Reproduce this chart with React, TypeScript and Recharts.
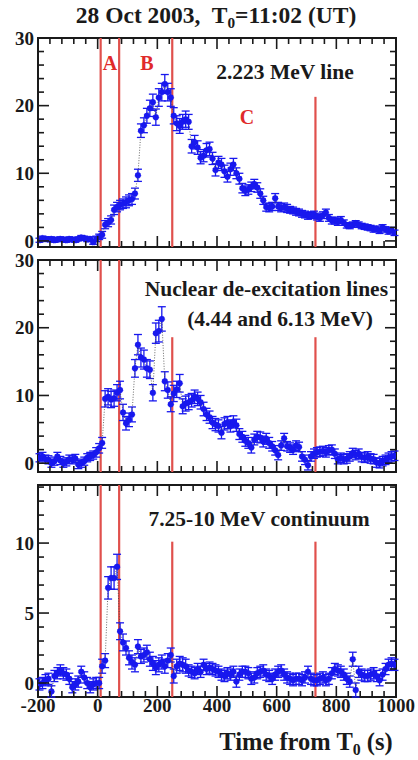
import React from "react";
import {
  ComposedChart,
  Line,
  XAxis,
  YAxis,
  ErrorBar,
  ReferenceLine,
  ReferenceArea,
} from "recharts";

// time bins (s from T0)
const times = [
  -195, -185, -175, -165, -155, -145, -135, -125, -115, -105,
  -95, -85, -75, -65, -55, -45, -35, -25, -15, -5,
  5, 15, 25, 35, 45, 55, 65, 75, 85, 95,
  105, 115, 125, 135, 145, 155, 165, 175, 185, 195,
  205, 215, 225, 235, 245, 255, 265, 275, 285, 295,
  305, 315, 325, 335, 345, 355, 365, 375, 385, 395,
  405, 415, 425, 435, 445, 455, 465, 475, 485, 495,
  505, 515, 525, 535, 545, 555, 565, 575, 585, 595,
  605, 615, 625, 635, 645, 655, 665, 675, 685, 695,
  705, 715, 725, 735, 745, 755, 765, 775, 785, 795,
  805, 815, 825, 835, 845, 855, 865, 875, 885, 895,
  905, 915, 925, 935, 945, 955, 965, 975, 985, 995,
];

// 2.223 MeV line
const line2223 = [
  0.1, 0.4, 0.3, 0.2, 0.3, 0.1, 0.2, 0.3, 0.2, 0.1,
  0.3, 0.2, 0.1, 0.3, 0.5, 0.4, 0.2, 0.3, -0.2, 0.3,
  0.6, 0.9, 2.4, 2.7, 3.1, 4.6, 5.0, 5.3, 5.5, 5.7,
  6.0, 6.2, 7.0, 9.7, 16.3, 17.1, 18.5, 19.6, 20.5, 18.3,
  21.2, 22.0, 23.2, 22.0, 21.2, 18.5, 17.4, 17.0, 17.6, 18.0,
  17.6, 14.0, 14.6, 13.8, 12.3, 12.6, 13.4, 13.6, 12.2, 10.5,
  11.6, 11.3, 10.3, 9.5, 10.6, 11.3, 10.0, 9.2, 7.8, 7.4,
  7.6, 8.0, 8.4, 7.9, 7.0, 6.0, 5.0, 4.9, 5.1, 6.3,
  5.1, 4.9, 5.0, 4.8, 4.6, 4.5, 4.3, 4.2, 4.0, 3.9,
  3.7, 3.8, 3.9, 3.6, 3.4, 3.8, 4.2, 3.4, 3.0, 3.0,
  2.8, 3.1, 2.7, 2.3, 2.2, 2.4, 2.6, 2.4, 2.2, 2.1,
  2.0, 1.9, 1.7, 1.8, 1.5, 2.0, 1.7, 1.4, 1.6, 1.2,
];
const line2223Err = [
  0.3, 0.3, 0.3, 0.3, 0.3, 0.3, 0.3, 0.3, 0.3, 0.3,
  0.3, 0.3, 0.3, 0.3, 0.3, 0.3, 0.3, 0.3, 0.3, 0.4,
  0.4, 0.5, 0.6, 0.6, 0.6, 0.7, 0.7, 0.7, 0.7, 0.8,
  0.8, 0.8, 0.8, 0.9, 1.0, 1.1, 1.1, 1.2, 1.2, 1.2,
  1.3, 1.3, 1.4, 1.3, 1.3, 1.2, 1.1, 1.1, 1.1, 1.2,
  1.1, 1.0, 1.0, 1.0, 0.9, 0.9, 1.0, 1.0, 0.9, 0.9,
  0.9, 0.9, 0.9, 0.8, 0.9, 0.9, 0.8, 0.8, 0.7, 0.7,
  0.7, 0.7, 0.7, 0.7, 0.7, 0.6, 0.6, 0.6, 0.6, 0.7,
  0.6, 0.6, 0.6, 0.6, 0.5, 0.5, 0.5, 0.5, 0.5, 0.5,
  0.5, 0.5, 0.5, 0.5, 0.5, 0.5, 0.5, 0.5, 0.5, 0.5,
  0.5, 0.5, 0.4, 0.4, 0.4, 0.4, 0.4, 0.4, 0.4, 0.4,
  0.4, 0.4, 0.4, 0.4, 0.4, 0.4, 0.4, 0.4, 0.4, 0.4,
];

// nuclear de-excitation lines (4.44 and 6.13 MeV)
const nuclear = [
  0.8, 1.0, 0.6, 0.5, 0.0, 0.3, 1.0, 0.4, 0.0, 0.2,
  0.6, 0.5, 0.7, -0.2, 0.0, 0.3, 0.8, 1.0, 1.2, 1.6,
  2.2, 3.0, 9.5, 9.8, 9.4, 9.6, 10.4, 10.8, 7.5, 5.9,
  6.4, 7.2, 14.0, 17.5, 15.6, 15.3, 14.0, 13.8, 10.4, 19.2,
  19.5, 21.3, 12.1, 10.8, 8.7, 10.3, 10.9, 11.8, 8.4, 8.8,
  9.0, 9.3, 9.8, 9.5, 9.0, 8.0, 7.2, 6.8, 6.0, 5.7,
  5.5, 4.5, 5.8, 6.0, 5.5, 6.1, 5.6, 4.3, 3.9, 3.3,
  3.0, 2.3, 3.5, 3.9, 3.8, 3.2, 3.6, 3.0, 2.5, 1.9,
  1.2, 2.6, 3.7, 2.5, 2.3, 2.0, 2.6, 2.4, 1.0, 0.5,
  -0.3, 1.0, 1.4, 1.6, 1.7, 1.8, 1.6, 1.9, 2.0, 1.4,
  0.6, 0.8, 0.6, 0.7, 1.0, 1.5, 1.2, 1.4, 0.9, 0.8,
  1.0, 0.7, 0.6, 0.1, 0.0, 0.3, 0.5, 0.8, 1.0, 1.1,
];
const nuclearErr = [
  0.6, 0.6, 0.6, 0.6, 0.6, 0.6, 0.6, 0.6, 0.6, 0.6,
  0.6, 0.6, 0.6, 0.6, 0.6, 0.6, 0.6, 0.6, 0.6, 0.7,
  0.7, 0.8, 1.2, 1.2, 1.2, 1.2, 1.2, 1.3, 1.2, 1.0,
  1.0, 1.1, 1.3, 1.5, 1.4, 1.4, 1.3, 1.3, 1.2, 1.5,
  1.6, 1.8, 1.4, 1.2, 1.1, 1.2, 1.2, 1.3, 1.1, 1.1,
  1.1, 1.0, 1.0, 1.0, 1.0, 1.0, 0.9, 0.9, 0.9, 0.9,
  0.9, 0.9, 0.9, 0.9, 0.9, 0.9, 0.9, 0.8, 0.8, 0.8,
  0.8, 0.8, 0.8, 0.8, 0.8, 0.8, 0.8, 0.8, 0.7, 0.7,
  0.7, 0.7, 0.7, 0.7, 0.7, 0.7, 0.7, 0.7, 0.7, 0.7,
  0.7, 0.7, 0.7, 0.7, 0.7, 0.7, 0.7, 0.7, 0.7, 0.7,
  0.7, 0.7, 0.7, 0.7, 0.7, 0.7, 0.7, 0.7, 0.7, 0.7,
  0.7, 0.7, 0.7, 0.7, 0.7, 0.7, 0.7, 0.7, 0.7, 0.7,
];

// 7.25-10 MeV continuum
const continuum = [
  -0.1, 0.0, 0.2, 0.3, -0.6, 0.5, 0.7, 0.9, 0.7, 0.6,
  0.3, -0.3, -0.1, 0.1, 0.8, 0.4, 0.0, -0.3, -0.1, 0.0,
  0.0, 1.2, 1.6, 6.8, 7.5, 7.5, 8.3, 3.7, 2.9, 2.5,
  1.8, 1.5, 1.3, 2.6, 1.9, 2.0, 2.2, 1.7, 1.4, 1.1,
  1.3, 1.5, 1.2, 1.6, 2.0, 0.5, 1.2, 1.4, 1.3, 1.2,
  0.9, 0.8, 0.7, 1.0, 0.8, 1.3, 1.0, 1.1, 1.0, 0.9,
  0.8, 0.6, 0.5, 0.7, 0.6, 0.8, 0.1, 0.6, 0.8, 0.8,
  0.7, 0.3, 0.4, 0.7, 0.8, 0.9, 0.6, 0.5, 0.3, 0.6,
  0.8, 0.9, 0.6, 0.4, 0.3, 0.2, 0.3, 0.3, 0.2, 0.4,
  0.8, 0.3, 0.2, 0.2, 0.3, 0.4, 0.2, 0.3, 0.7, 1.0,
  0.9, 0.8, 0.6, 0.3, 0.1, 1.7, -0.5, 0.8, 0.6, 0.5,
  0.5, 0.6, 0.7, 0.5, 0.2, 0.6, 1.0, 1.3, 1.4, 1.3,
];
const continuumErr = [
  0.4, 0.4, 0.4, 0.4, 0.4, 0.4, 0.4, 0.4, 0.4, 0.4,
  0.4, 0.4, 0.4, 0.4, 0.4, 0.4, 0.4, 0.4, 0.4, 0.4,
  0.4, 0.5, 0.5, 0.8, 0.8, 0.8, 0.9, 0.6, 0.6, 0.5,
  0.5, 0.5, 0.5, 0.5, 0.5, 0.5, 0.5, 0.5, 0.5, 0.5,
  0.5, 0.5, 0.5, 0.5, 0.5, 0.5, 0.5, 0.5, 0.5, 0.5,
  0.4, 0.4, 0.4, 0.4, 0.4, 0.4, 0.4, 0.4, 0.4, 0.4,
  0.4, 0.4, 0.4, 0.4, 0.4, 0.4, 0.4, 0.4, 0.4, 0.4,
  0.4, 0.4, 0.4, 0.4, 0.4, 0.4, 0.4, 0.4, 0.4, 0.4,
  0.4, 0.4, 0.4, 0.4, 0.4, 0.4, 0.4, 0.4, 0.4, 0.4,
  0.4, 0.4, 0.4, 0.4, 0.4, 0.4, 0.4, 0.4, 0.4, 0.4,
  0.4, 0.4, 0.4, 0.4, 0.4, 0.5, 0.5, 0.4, 0.4, 0.4,
  0.4, 0.4, 0.4, 0.4, 0.4, 0.4, 0.4, 0.4, 0.4, 0.4,
];

const xTicks = [
  -200, -160, -120, -80, -40, 0, 40, 80, 120, 160, 200, 240, 280, 320, 360,
  400, 440, 480, 520, 560, 600, 640, 680, 720, 760, 800, 840, 880, 920, 960, 1000,
];
const xLabels = [-200, 0, 200, 400, 600, 800, 1000];
const yTicks30 = [0, 2, 4, 6, 8, 10, 12, 14, 16, 18, 20, 22, 24, 26, 28, 30];
const yLabels30 = [0, 10, 20, 30];
const yTicks14 = [0, 1, 2, 3, 4, 5, 6, 7, 8, 9, 10, 11, 12, 13, 14];
const yLabels14 = [0, 5, 10];

// interval boundaries (A, B, C)
const bounds = [10, 72, 250, 730];

const SERIF = '"Liberation Serif", "Times New Roman", serif';
const INK = "#1a1a1a";
const RED = "#e0504c";
const BLUE = "#1818ee";
const PLOT_W = 358;

const XTick = (props: any) => {
  const { x, y, payload, plotH, showLabel } = props;
  const major = xLabels.includes(payload.value);
  const len = major ? 11 : 6;
  const top = y - plotH;
  return (
    <g>
      <line x1={x} x2={x} y1={y} y2={y - len} stroke={INK} strokeWidth={1.6} />
      <line x1={x} x2={x} y1={top} y2={top + len} stroke={INK} strokeWidth={1.6} />
      {showLabel && major && (
        <text
          x={x}
          y={y + 15}
          textAnchor="middle"
          fontFamily={SERIF}
          fontWeight="bold"
          fontSize={19}
          fill={INK}
        >
          {payload.value}
        </text>
      )}
    </g>
  );
};

const YTick = (props: any) => {
  const { x, y, payload, labels } = props;
  const major = labels.includes(payload.value);
  const len = major ? 11 : 6;
  const right = x + PLOT_W;
  return (
    <g>
      <line x1={x} x2={x + len} y1={y} y2={y} stroke={INK} strokeWidth={1.6} />
      <line x1={right} x2={right - len} y1={y} y2={y} stroke={INK} strokeWidth={1.6} />
      {major && (
        <text
          x={x - 4}
          y={y}
          dy="0.35em"
          textAnchor="end"
          fontFamily={SERIF}
          fontWeight="bold"
          fontSize={19}
          fill={INK}
        >
          {payload.value}
        </text>
      )}
    </g>
  );
};

function Panel(props: any) {
  const { top, plotH, xAxisH, values, errors, yDomain, yTicks, yLabels, cut250, cut730, showX } =
    props;
  const data = times.map((t, i) => ({ t, v: values[i], e: errors[i] }));
  const mt = 12;
  return (
    <div style={{ position: "absolute", left: 0, top: top - mt }}>
      <ComposedChart
        width={418}
        height={mt + plotH + xAxisH}
        data={data}
        margin={{ top: mt, right: 22, bottom: 0, left: 0 }}
      >
        <XAxis
          dataKey="t"
          type="number"
          domain={[-200, 1000]}
          ticks={xTicks}
          interval={0}
          height={xAxisH}
          axisLine={false}
          tickLine={false}
          tickSize={0}
          tickMargin={0}
          allowDataOverflow
          tick={(p: any) => <XTick {...p} plotH={plotH} showLabel={showX} />}
        />
        <YAxis
          type="number"
          domain={yDomain}
          ticks={yTicks}
          interval={0}
          width={38}
          axisLine={false}
          tickLine={false}
          tickSize={0}
          tickMargin={0}
          allowDataOverflow
          tick={(p: any) => <YTick {...p} labels={yLabels} />}
        />
        <ReferenceLine x={bounds[0]} stroke={RED} strokeWidth={2.2} />
        <ReferenceLine x={bounds[1]} stroke={RED} strokeWidth={2.2} />
        <ReferenceLine
          segment={[
            { x: bounds[2], y: yDomain[0] },
            { x: bounds[2], y: cut250 },
          ]}
          stroke={RED}
          strokeWidth={2.2}
        />
        <ReferenceLine
          segment={[
            { x: bounds[3], y: yDomain[0] },
            { x: bounds[3], y: cut730 },
          ]}
          stroke={RED}
          strokeWidth={2.2}
        />
        <Line
          dataKey="v"
          type="linear"
          stroke="#444"
          strokeWidth={0.8}
          strokeDasharray="1 1.6"
          dot={{ r: 3, fill: BLUE, stroke: BLUE, strokeWidth: 0.5 }}
          isAnimationActive={false}
        >
          <ErrorBar dataKey="e" direction="y" width={4} stroke={BLUE} strokeWidth={1.3} />
        </Line>
        <ReferenceArea
          x1={-200}
          x2={1000}
          y1={yDomain[0]}
          y2={yDomain[1]}
          fill="none"
          stroke={INK}
          strokeWidth={2}
        />
      </ComposedChart>
    </div>
  );
}

const Txt = ({ x, y, size, color, anchor, children }: any) => (
  <div
    style={{
      position: "absolute",
      left: x,
      top: y,
      transform: `translate(${anchor === "end" ? "-100%" : "-50%"}, -50%)`,
      fontFamily: SERIF,
      fontWeight: "bold",
      fontSize: size,
      lineHeight: 1,
      whiteSpace: "nowrap",
      color: color || INK,
    }}
  >
    {children}
  </div>
);

const Sub0 = () => (
  <span style={{ fontSize: "0.65em", position: "relative", top: "0.3em" }}>0</span>
);

export default function App() {
  return (
    <div
      style={{
        position: "absolute",
        left: 0,
        top: 0,
        width: 418,
        height: 760,
        background: "#fff",
        overflow: "hidden",
      }}
    >
      <Panel
        top={38}
        plotH={209}
        xAxisH={4}
        values={line2223}
        errors={line2223Err}
        yDomain={[-0.9, 30]}
        yTicks={yTicks30}
        yLabels={yLabels30}
        cut250={30}
        cut730={21.3}
        showX={false}
      />
      <Panel
        top={260}
        plotH={212}
        xAxisH={4}
        values={nuclear}
        errors={nuclearErr}
        yDomain={[-1.3, 30]}
        yTicks={yTicks30}
        yLabels={yLabels30}
        cut250={18.6}
        cut730={18.6}
        showX={false}
      />
      <Panel
        top={485}
        plotH={212}
        xAxisH={22}
        values={continuum}
        errors={continuumErr}
        yDomain={[-1, 14.15]}
        yTicks={yTicks14}
        yLabels={yLabels14}
        cut250={10.1}
        cut730={10.1}
        showX={true}
      />

      <Txt x={216} y={16} size={23.5}>
        28 Oct 2003,&nbsp; T<Sub0 />=11:02 (UT)
      </Txt>
      <Txt x={110} y={63} size={20} color="#e02a2a">A</Txt>
      <Txt x={147} y={63} size={20} color="#e02a2a">B</Txt>
      <Txt x={247} y={117} size={20} color="#e02a2a">C</Txt>
      <Txt x={285} y={73} size={21.5}>2.223 MeV line</Txt>
      <Txt x={388} y={290} size={21.5} anchor="end">
        Nuclear de-excitation lines
      </Txt>
      <Txt x={280} y={320} size={21.5}>(4.44 and 6.13 MeV)</Txt>
      <Txt x={259} y={520} size={21.5}>7.25-10 MeV continuum</Txt>
      <Txt x={306} y={742} size={24.5}>
        Time from T<Sub0 /> (s)
      </Txt>
    </div>
  );
}
